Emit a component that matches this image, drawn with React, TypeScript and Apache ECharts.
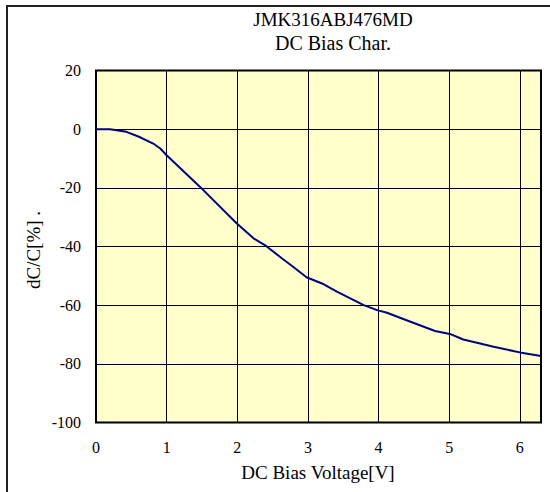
import React, { useEffect, useRef } from "react";
import * as echarts from "echarts";

const titleLines = ["JMK316ABJ476MD", "DC Bias Char."];
const xAxisName = "DC Bias Voltage[V]";
const yAxisName = "dC/C[%] .";
const voltage = [0, 0.2, 0.43, 0.6, 0.81, 0.91, 1.0, 1.47, 1.99, 2.23, 2.39, 2.63, 2.79, 2.98, 3.2, 3.41, 3.79, 3.98, 4.12, 4.35, 4.8, 5.01, 5.2, 5.63, 6.0, 6.3];
const dcPercent = [0, 0, -0.9, -2.5, -4.9, -6.6, -8.9, -19.6, -32.1, -37.2, -39.5, -44, -46.9, -50.5, -52.6, -55.4, -60, -61.7, -62.6, -64.7, -68.8, -69.8, -71.7, -74.2, -76.1, -77.3];

const FONT = "'Liberation Serif', 'Times New Roman', serif";

export default function App() {
  const ref = useRef<HTMLDivElement>(null);
  useEffect(() => {
    if (!ref.current) return;
    const chart = echarts.init(ref.current, null, { renderer: "svg" });
    chart.setOption({
      animation: false,
      backgroundColor: "#ffffff",
      textStyle: { fontFamily: FONT },
      grid: {
        left: 96,
        right: 9,
        top: 70.5,
        bottom: 69.5,
        show: true,
        backgroundColor: "#FFFFCC",
        borderColor: "#000",
        borderWidth: 2,
      },
      xAxis: {
        type: "value",
        min: 0,
        max: 6.3,
        interval: 1,
        axisLine: { show: false },
        axisTick: { show: false },
        splitLine: { show: true, lineStyle: { color: "#000", width: 1 } },
        axisLabel: {
          color: "#000",
          fontFamily: FONT,
          fontSize: 16,
          margin: 17,
          formatter: (v: number) => (Number.isInteger(v) ? String(v) : ""),
        },
      },
      yAxis: {
        type: "value",
        min: -100,
        max: 20,
        interval: 20,
        axisLine: { show: false },
        axisTick: { show: false },
        splitLine: { show: true, lineStyle: { color: "#000", width: 1 } },
        axisLabel: { color: "#000", fontFamily: FONT, fontSize: 16, margin: 15 },
      },
      graphic: [
        {
          type: "rect",
          shape: { x: 7, y: 6, width: 700, height: 700 },
          style: { fill: "none", stroke: "#222", lineWidth: 2 },
          silent: true,
          z: 100,
        },
        {
          type: "text",
          x: 333,
          y: 19,
          style: { text: titleLines[0], font: `19px ${FONT}`, fill: "#000", textAlign: "center", textVerticalAlign: "middle" },
        },
        {
          type: "text",
          x: 333,
          y: 43,
          style: { text: titleLines[1], font: `20px ${FONT}`, fill: "#000", textAlign: "center", textVerticalAlign: "middle" },
        },
        {
          type: "text",
          x: 318,
          y: 472,
          style: { text: xAxisName, font: `19px ${FONT}`, fill: "#000", textAlign: "center", textVerticalAlign: "middle" },
        },
        {
          type: "text",
          x: 33,
          y: 250,
          rotation: Math.PI / 2,
          style: { text: yAxisName, font: `19px ${FONT}`, fill: "#000", textAlign: "center", textVerticalAlign: "middle" },
        },
      ],
      series: [
        {
          type: "line",
          data: voltage.map((v, i) => [v, dcPercent[i]]),
          showSymbol: false,
          smooth: false,
          lineStyle: { color: "#000080", width: 2 },
          clip: true,
        },
      ],
    });
    return () => chart.dispose();
  }, []);
  return <div ref={ref} style={{ position: "fixed", left: 0, top: 0, width: 550, height: 492 }} />;
}
